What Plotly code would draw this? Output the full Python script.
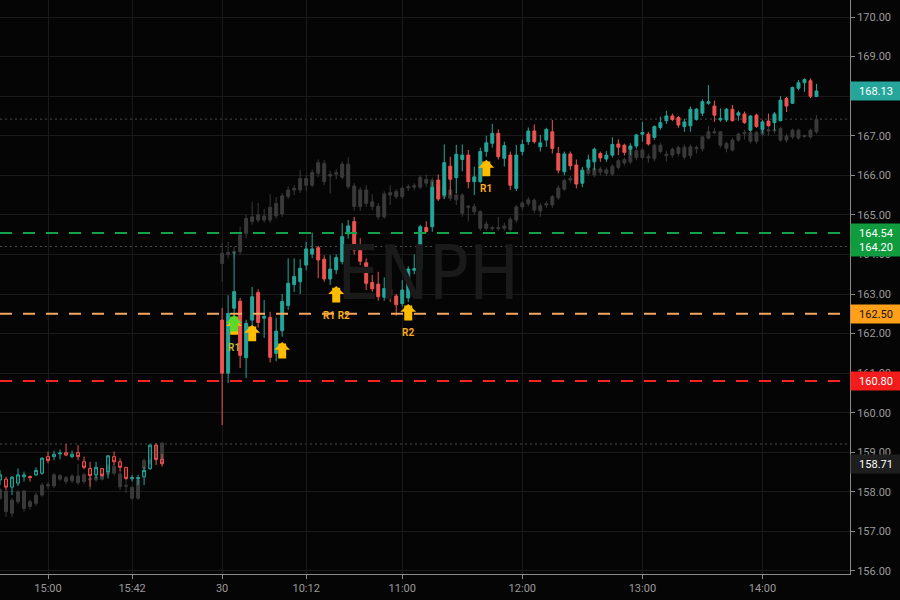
import plotly.graph_objects as go

# ---------------- data ----------------
BAR_MIN = 3
prev_start = "14:36"     # previous session (3-minute bars)
today_start = "09:30"    # current session (3-minute bars)

prev_open  = [158.30,158.32,158.12,158.22,158.38,158.39,158.43,158.47,158.89,158.89,158.96,158.99,158.89,158.99,
              158.76,158.59,158.43,158.59,158.51,158.89,158.76,158.62,158.33,158.33,158.38,158.59,159.18,158.82]
prev_high  = [158.55,158.38,158.40,158.59,158.51,158.41,158.62,158.88,159.02,159.04,159.07,159.21,159.04,159.18,
              158.89,158.76,158.76,158.59,158.93,159.02,158.85,158.62,158.43,158.43,158.64,159.21,159.23,158.96]
prev_low   = [158.17,158.05,157.92,158.15,158.26,158.26,158.40,158.43,158.72,158.80,158.82,158.90,158.85,158.80,
              158.57,158.13,158.34,158.38,158.34,158.68,158.51,158.30,158.26,158.17,158.17,158.55,158.68,158.64]
prev_close = [158.43,158.12,158.37,158.43,158.43,158.36,158.54,158.85,158.79,158.95,158.98,158.93,158.95,158.89,
              158.62,158.41,158.62,158.41,158.91,158.76,158.62,158.34,158.36,158.36,158.54,159.18,158.82,158.71]

today_open = [162.34,161.00,162.64,162.82,161.39,162.34,163.04,162.39,162.41,161.50,
              162.07,162.71,163.24,163.31,163.73,164.01,164.17,163.88,163.38,163.61,
              163.82,164.52,164.83,164.17,163.79,163.29,163.25,162.92,163.12,162.95,
              162.76,162.90,163.60,163.63,164.68,164.70,165.88,165.50,166.23,165.94,
              166.40,166.51,165.84,165.84,166.60,166.81,167.06,166.43,166.51,165.67,
              166.60,166.85,167.12,166.72,166.89,167.10,166.55,166.09,166.54,166.26,
              165.80,166.20,166.34,166.55,166.41,166.51,166.79,166.76,166.66,166.74,
              167.04,167.04,166.96,167.21,167.38,167.50,167.46,167.23,167.25,167.41,
              167.57,167.82,167.75,167.40,167.40,167.67,167.52,167.55,167.14,167.52,
              167.16,167.37,167.33,167.38,167.94,167.82,168.20,168.34,168.39,167.99]
today_high = [162.65,162.97,164.07,162.90,162.35,163.18,163.12,162.85,162.55,162.40,
              163.00,163.90,163.90,163.88,164.32,164.55,164.22,163.98,163.98,164.00,
              164.79,164.87,164.95,164.41,163.90,163.48,163.56,163.42,163.40,163.00,
              163.35,163.70,164.00,164.75,164.84,165.84,166.02,166.78,166.47,166.77,
              166.78,166.64,166.22,166.70,167.00,167.30,167.16,166.85,166.60,166.77,
              166.90,167.21,167.29,167.02,167.20,167.40,166.72,166.60,166.60,166.40,
              166.21,166.52,166.70,166.60,166.61,166.96,166.91,166.80,166.81,167.05,
              167.35,167.10,167.26,167.48,167.63,167.56,167.50,167.43,167.74,167.70,
              167.92,168.28,167.89,167.69,167.70,167.78,167.63,167.61,167.52,167.56,
              167.40,167.56,167.60,168.00,167.98,168.24,168.41,168.45,168.45,168.31]
today_low  = [159.69,160.75,162.27,161.13,160.88,162.22,162.15,161.89,161.27,161.30,
              161.92,162.60,163.05,163.00,163.60,163.90,163.40,163.31,163.23,163.50,
              163.75,164.40,164.00,163.73,163.10,163.06,162.83,162.83,162.80,162.45,
              162.68,162.80,163.50,163.60,164.55,164.57,165.35,165.40,165.50,165.55,
              166.10,165.67,165.50,165.80,166.47,166.70,166.40,166.22,165.63,165.60,
              166.50,166.77,166.80,166.60,166.72,166.55,166.05,166.00,166.13,165.67,
              165.70,166.13,166.13,166.34,166.34,166.45,166.51,166.50,166.51,166.68,
              166.85,166.75,166.90,167.15,167.30,167.37,167.20,167.10,167.10,167.38,
              167.50,167.78,167.35,167.35,167.35,167.36,167.38,167.30,167.10,167.20,
              167.06,167.23,167.14,167.36,167.60,167.80,168.15,168.11,167.95,167.98]
today_close = [161.00,162.51,163.06,161.45,162.26,162.93,162.28,162.43,161.40,162.06,
               162.81,163.27,163.44,163.65,164.14,164.14,163.86,163.38,163.63,163.92,
               164.45,164.72,164.11,163.83,163.27,163.13,162.93,163.14,162.97,162.73,
               163.10,163.63,163.64,164.70,164.58,165.70,165.40,166.32,165.90,166.53,
               166.51,165.84,165.96,166.60,166.82,167.06,166.47,166.75,165.75,166.51,
               166.78,167.12,166.85,166.82,167.16,166.68,166.13,166.54,166.24,165.78,
               166.13,166.39,166.66,166.44,166.51,166.78,166.71,166.58,166.74,167.02,
               167.08,166.79,167.23,167.33,167.50,167.41,167.27,167.35,167.67,167.67,
               167.86,167.86,167.52,167.44,167.67,167.38,167.58,167.33,167.50,167.23,
               167.35,167.25,167.55,167.90,167.75,168.22,168.34,168.42,168.00,168.13]

# comparison (grey) series: previous session then current session
cmp_prev_open  = [157.84,157.50,157.46,157.75,157.58,157.63,157.71,157.92,158.15,158.15,158.32,158.26,158.28,158.23,
                  158.26,158.30,158.30,158.32,158.45,158.47,158.13,158.14,157.84,157.84,158.59,158.72,158.85,158.72]
cmp_prev_high  = [158.10,158.05,157.85,158.05,158.05,157.80,157.98,158.22,158.25,158.48,158.45,158.40,158.45,158.70,
                  158.48,158.42,158.45,158.48,158.70,158.70,158.50,158.30,158.15,158.35,158.85,158.85,159.22,159.26]
cmp_prev_low   = [157.80,157.37,157.36,157.70,157.50,157.55,157.65,157.88,158.08,158.10,158.28,158.20,158.22,158.18,
                  158.20,158.05,158.25,158.28,158.40,158.42,158.05,157.97,157.80,157.80,158.55,158.68,158.80,158.68]
cmp_prev_close = [158.05,158.02,157.79,158.00,158.02,157.75,157.92,158.17,158.18,158.43,158.41,158.36,158.40,158.40,
                  158.43,158.34,158.38,158.43,158.65,158.65,158.45,158.16,158.11,158.30,158.79,158.79,159.18,159.23]

cmp_open  = [163.77,164.00,164.03,164.07,164.53,164.83,164.87,164.87,164.87,164.97,
             165.02,165.46,165.63,165.63,165.75,165.75,166.05,165.84,165.98,166.03,
             165.95,165.71,165.21,165.21,165.29,165.21,164.95,164.95,165.50,165.46,
             165.46,165.68,165.70,165.70,165.80,165.71,165.60,165.45,165.42,165.38,
             165.04,165.19,165.08,164.66,164.66,164.65,164.65,164.66,164.63,164.87,
             165.20,165.28,165.12,165.10,165.25,165.25,165.43,165.65,165.88,165.85,
             166.03,166.05,166.01,166.08,166.05,166.03,166.20,166.31,166.34,166.45,
             166.45,166.44,166.42,166.60,166.50,166.51,166.55,166.46,166.50,166.67,
             166.67,166.94,167.07,166.76,166.68,166.64,166.89,167.05,166.86,166.86,
             167.04,167.12,167.12,166.89,166.89,166.97,166.94,166.98,166.97,167.10]
cmp_high  = [164.30,164.32,164.20,164.70,165.00,165.33,165.30,165.15,165.53,165.45,
             165.55,165.72,165.75,166.13,166.00,166.15,166.40,166.38,166.12,166.15,
             166.35,166.45,165.80,165.70,165.75,165.52,165.30,165.60,165.75,165.65,
             165.72,165.77,165.80,166.00,166.02,165.95,165.85,165.80,165.70,165.58,
             165.55,165.25,165.28,165.12,164.85,164.72,164.95,164.80,164.95,165.25,
             165.35,165.45,165.42,165.30,165.35,165.50,165.75,165.92,165.98,166.05,
             166.20,166.25,166.25,166.22,166.20,166.28,166.42,166.45,166.72,166.68,
             166.70,166.55,166.80,166.82,166.62,166.70,166.75,166.78,166.78,166.75,
             167.00,167.25,167.20,167.12,166.85,166.95,167.08,167.15,167.12,167.12,
             167.18,167.22,167.20,167.22,167.05,167.18,167.18,167.03,167.18,167.52]
cmp_low   = [163.31,163.90,163.90,164.00,164.40,164.75,164.80,164.80,164.80,164.90,
             164.95,165.40,165.50,165.55,165.60,165.70,165.95,165.75,165.54,165.90,
             165.90,165.65,165.10,165.10,165.20,165.12,164.88,164.90,165.25,165.40,
             165.40,165.60,165.62,165.65,165.70,165.65,165.55,165.40,165.35,165.25,
             164.95,164.83,165.00,164.60,164.60,164.60,164.60,164.60,164.58,164.80,
             165.12,165.22,165.05,164.95,165.18,165.18,165.38,165.60,165.80,165.78,
             165.95,165.98,165.95,166.00,165.98,165.98,166.15,166.25,166.28,166.38,
             166.40,166.32,166.35,166.55,166.35,166.45,166.48,166.40,166.42,166.55,
             166.60,166.90,167.05,166.70,166.58,166.60,166.85,166.90,166.80,166.80,
             166.98,167.00,167.05,166.85,166.82,166.92,166.90,166.95,166.92,167.05]
cmp_close = [164.03,164.05,164.07,164.49,164.91,164.95,165.00,164.97,165.19,165.29,
             165.48,165.63,165.67,165.92,165.92,166.07,166.32,166.30,166.02,166.07,
             166.28,166.28,165.73,165.63,165.63,165.33,165.22,165.53,165.56,165.59,
             165.67,165.71,165.74,165.95,165.90,165.88,165.75,165.70,165.63,165.50,
             165.50,165.22,165.21,165.08,164.77,164.68,164.68,164.72,164.89,165.20,
             165.30,165.38,165.37,165.23,165.28,165.46,165.68,165.87,165.92,166.00,
             166.12,166.17,166.17,166.16,166.14,166.23,166.37,166.40,166.68,166.62,
             166.64,166.47,166.76,166.76,166.53,166.66,166.70,166.71,166.72,166.70,
             166.97,167.10,167.10,167.10,166.80,166.89,167.04,167.08,167.08,167.08,
             167.14,167.15,167.15,167.18,166.99,167.14,167.14,167.00,167.14,167.41]

# horizontal levels
level_prices = [164.54, 162.50, 160.80]
level_colors = ["#13A14A", "#F6A862", "#FF2222"]
label_colors = ["#0F9B3E", "#FF9F1A", "#F21C1C"]
label_text_colors = ["#FFFFFF", "#131313", "#FFFFFF"]
ref_prices = [167.42, 164.20, 159.21]          # dotted reference lines
ref_label = 164.20

# signals (arrow tip time / price)
sig_times  = ["09:36", "09:36", "09:45", "10:00", "10:27", "11:03", "11:42"]
sig_prices = [162.39, 162.47, 162.22, 161.79, 163.20, 162.75, 166.39]
sig_colors = ["#FFBB00", "#5FD82A", "#FFBB00", "#FFBB00", "#FFBB00", "#FFBB00", "#FFBB00"]
sig_labels = ["R1", "", "", "", "R1 R2", "R2", "R1"]
sig_label_colors = ["#BDB83A", "", "", "", "#F5A91E", "#F5A91E", "#F5A91E"]

tick_days   = [0, 0, 1, 1, 1, 1, 1, 1]
tick_times  = ["15:00", "15:42", "09:30", "10:12", "11:00", "12:00", "13:00", "14:00"]
tick_labels = ["15:00", "15:42", "30", "10:12", "11:00", "12:00", "13:00", "14:00"]

symbol = "ENPH"

# ---------------- helpers ----------------
SESSION_GAP = 87   # position of 09:30 (minutes after prev-day 15:00, incl. overnight spacing)

def mins(hhmm):
    h, m = hhmm.split(":")
    return int(h) * 60 + int(m)

def xpos(day, hhmm):
    if day == 0:
        return mins(hhmm) - 15 * 60
    return SESSION_GAP + mins(hhmm) - (9 * 60 + 30)

def bar_times(start, n):
    s = mins(start)
    return ["%02d:%02d" % divmod(s + BAR_MIN * i, 60) for i in range(n)]

prev_x = [xpos(0, t) for t in bar_times(prev_start, len(prev_close))]
today_x = [xpos(1, t) for t in bar_times(today_start, len(today_close))]

TEAL = "#26A69A"
RED = "#EF5350"
GREY = "#3A3A3A"
BG = "#050505"

fig = go.Figure()

# comparison series (grey, behind)
fig.add_trace(go.Candlestick(
    x=prev_x + today_x,
    open=cmp_prev_open + cmp_open, high=cmp_prev_high + cmp_high,
    low=cmp_prev_low + cmp_low, close=cmp_prev_close + cmp_close,
    increasing=dict(line=dict(color=GREY, width=1), fillcolor=GREY),
    decreasing=dict(line=dict(color="#303030", width=1), fillcolor="#303030"),
    showlegend=False, hoverinfo="skip"))

# previous session (hollow style)
fig.add_trace(go.Candlestick(
    x=prev_x, open=prev_open, high=prev_high, low=prev_low, close=prev_close,
    increasing=dict(line=dict(color=TEAL, width=1), fillcolor="rgba(38,166,154,0.25)"),
    decreasing=dict(line=dict(color=RED, width=1), fillcolor="rgba(239,83,80,0.25)"),
    showlegend=False))

# current session
fig.add_trace(go.Candlestick(
    x=today_x, open=today_open, high=today_high, low=today_low, close=today_close,
    increasing=dict(line=dict(color=TEAL, width=1), fillcolor=TEAL),
    decreasing=dict(line=dict(color=RED, width=1), fillcolor=RED),
    showlegend=False))

shapes = []
for p in ref_prices:
    shapes.append(dict(type="line", xref="paper", x0=0, x1=1, yref="y", y0=p, y1=p,
                       line=dict(color="#4a4a4a", width=1, dash="2px,3px"), layer="below"))
for p, c in zip(level_prices, level_colors):
    shapes.append(dict(type="line", xref="paper", x0=0, x1=1, yref="y", y0=p, y1=p,
                       line=dict(color=c, width=2, dash="12px,11px")))

annotations = []
# watermark
annotations.append(dict(text=symbol, xref="paper", yref="paper", x=0.504, y=0.524,
                        showarrow=False,
                        font=dict(family="DejaVu Sans Condensed, Liberation Sans Narrow, Liberation Sans",
                                  size=74, color="#1a1a1a")))

# signal arrows and labels
for t, p, c, lab, lc in zip(sig_times, sig_prices, sig_colors, sig_labels, sig_label_colors):
    xx = xpos(1, t)
    annotations.append(dict(x=xx, y=p, xref="x", yref="y", text="", showarrow=True,
                            arrowhead=1, arrowsize=0.33, arrowwidth=8, arrowcolor=c,
                            ax=0, ay=18))
for t, p, lab, lc in zip(sig_times, sig_prices, sig_labels, sig_label_colors):
    if lab:
        annotations.append(dict(x=xpos(1, t), y=p, xref="x", yref="y", text="<b>%s</b>" % lab,
                                showarrow=False, yshift=-29,
                                font=dict(family="Roboto", size=10, color=lc)))

# price labels on right axis
def price_label(v, bg, fg):
    return dict(x=1, xref="paper", xanchor="left", y=v, yref="y", yanchor="middle",
                text="%.2f" % v, showarrow=False, bgcolor=bg, width=50, height=18,
                borderpad=0, align="center",
                font=dict(family="Roboto", size=11, color=fg))

annotations.append(price_label(today_close[-1], TEAL, "#FFFFFF"))
for p, bc, tc in zip(level_prices, label_colors, label_text_colors):
    annotations.append(price_label(p, bc, tc))
annotations.append(price_label(ref_label, label_colors[0], "#FFFFFF"))
annotations.append(price_label(prev_close[-1], "#1E1E1E", "#FFFFFF"))

fig.update_layout(
    width=900, height=600,
    margin=dict(l=0, r=50, t=0, b=26),
    paper_bgcolor=BG, plot_bgcolor=BG,
    shapes=shapes, annotations=annotations,
    boxgap=0.3,
    xaxis=dict(range=[-24, 400.75], rangeslider=dict(visible=False),
               tickvals=[xpos(d, t) for d, t in zip(tick_days, tick_times)],
               ticktext=tick_labels, showgrid=True, gridcolor="#1a1a1a", gridwidth=1,
               zeroline=False, showline=True, linecolor="#8a8a8a", linewidth=1,
               ticks="outside", ticklen=4, tickcolor="#8a8a8a",
               tickfont=dict(family="Roboto", size=11, color="#9a9a9a")),
    yaxis=dict(side="right", range=[155.924, 170.43], dtick=1, tick0=156, tickformat=".2f",
               showgrid=True, gridcolor="#1a1a1a", gridwidth=1, zeroline=False,
               showline=True, linecolor="#8a8a8a", linewidth=1,
               ticks="outside", ticklen=4, tickcolor="#8a8a8a",
               tickfont=dict(family="Roboto", size=11, color="#9a9a9a")),
    hovermode=False,
)

fig.write_html("out.html", config={"displayModeBar": False},
               post_script="document.body.style.margin='0';document.body.style.padding='0';"
                           "document.body.style.background='%s';" % BG)
